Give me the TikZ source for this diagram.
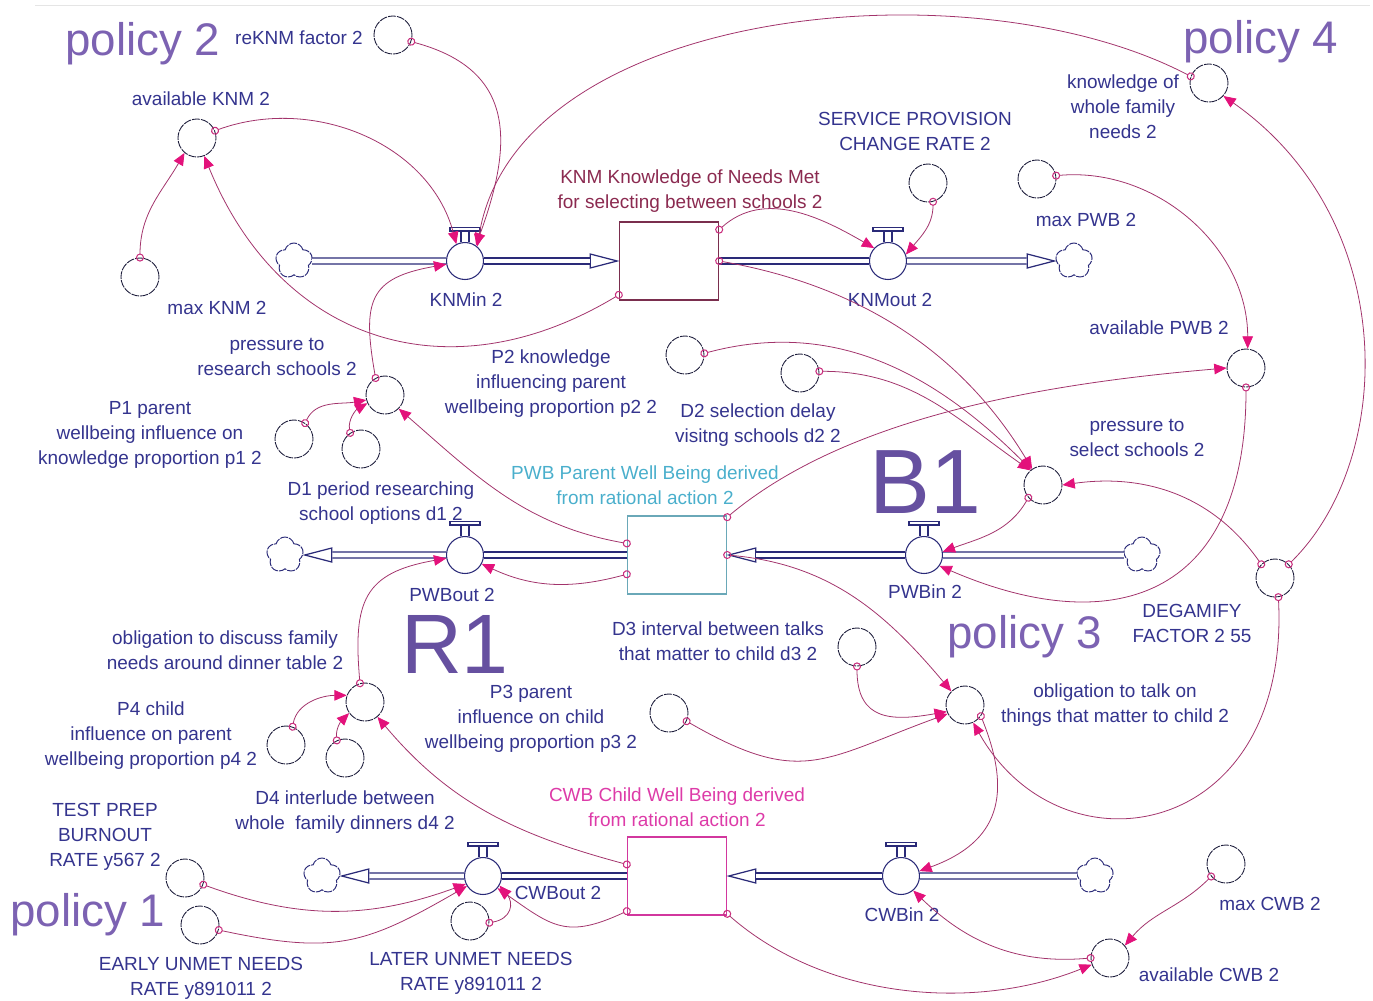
\documentclass[tikz,border=0pt]{standalone}
\usepackage{fontspec}
\setmainfont{Liberation Sans}
\usetikzlibrary{positioning,arrows.meta,calc,shapes.geometric,shapes.symbols}
\definecolor{flowInk}{HTML}{2A2A78}
\definecolor{txtInk}{HTML}{34348E}
\definecolor{auxInk}{HTML}{1E1E3C}
\definecolor{linkInk}{HTML}{A2336B}
\definecolor{headPk}{HTML}{E3127B}
\definecolor{tailPk}{HTML}{C92F7E}
\definecolor{knmInk}{HTML}{8B2A50}
\definecolor{knmEdge}{HTML}{7A2E4E}
\definecolor{pwbInk}{HTML}{4AAFCC}
\definecolor{pwbEdge}{HTML}{6AA8B8}
\definecolor{cwbInk}{HTML}{DD3BA8}
\definecolor{cwbEdge}{HTML}{D2379E}
\definecolor{polInk}{HTML}{7C62B2}
\definecolor{loopInk}{HTML}{6650A0}

\begin{document}
\begin{tikzpicture}[
  x=0.02cm, y=0.02cm,
  font=\fontsize{10.8}{14.2}\selectfont,
  aux/.style={circle, draw=auxInk, line width=0.5pt, dash pattern=on 4.5pt off 0.6pt, fill=white, minimum size=0.76cm, inner sep=0pt},
  valve/.style={circle, draw=flowInk, line width=0.6pt, fill=white, minimum size=0.74cm, inner sep=0pt},
  stock/.style={rectangle, line width=0.8pt, fill=white, minimum width=1.98cm, minimum height=1.56cm, inner sep=0pt},
  cloudy/.style={cloud, cloud puffs=5, aspect=1, draw=flowInk, line width=0.55pt, dash pattern=on 4.5pt off 0.6pt, fill=white, minimum width=0.74cm, minimum height=0.72cm, inner sep=0pt},
  pipe/.style={draw=flowInk, line width=0.7pt, double=white, double distance=2.6pt},
  pipeHd/.style={isosceles triangle, isosceles triangle stretches, draw=flowInk, line width=0.7pt, fill=white, minimum width=0.28cm, minimum height=0.54cm, inner sep=0pt},
  lbl/.style={text=txtInk, align=center, inner sep=1pt},
  link/.style={draw=linkInk, line width=0.45pt, shorten <=-2.3pt,
    arrows={Circle[open,length=4.6pt,width=4.6pt,line width=0.6pt,color=tailPk]-Triangle[length=7pt,width=6pt,color=headPk]}},
  pol/.style={font=\fontsize{26}{30}\selectfont, text=polInk, inner sep=0pt},
  loopmk/.style={font=\fontsize{52}{56}\selectfont, text=loopInk, inner sep=0pt},
]
\useasboundingbox (0,0) rectangle (1373,-1001);
\draw[black!10] (35,-5) -- (1370,-5);

% =========================== STOCKS ===========================
\node[stock, draw=knmEdge] (knm) at (669,-261) {};
\node[stock, draw=pwbEdge] (pwb) at (677,-555) {};
\node[stock, draw=cwbEdge] (cwb) at (677,-876) {};

\node[lbl, text=knmInk] (knmT) at (690,-191) {KNM Knowledge of Needs Met\\for selecting between schools 2};
\node[lbl, text=pwbInk] (pwbT) at (645,-485) {PWB Parent Well Being derived\\from rational action 2};
\node[lbl, text=cwbInk] (cwbT) at (677,-807) {CWB Child Well Being derived\\from rational action 2};

% =========================== FLOWS ===========================
\node[valve] (knmIn)  at (465,-261) {};
\node[valve] (knmOut) at (888,-261) {};
\node[valve] (pwbOut) at (465,-555) {};
\node[valve] (pwbIn)  at (924,-555) {};
\node[valve] (cwbOut) at (483,-876) {};
\node[valve] (cwbIn)  at (901,-876) {};
\foreach \v in {knmIn,knmOut,pwbOut,pwbIn,cwbOut,cwbIn}{
  \draw[flowInk, line width=0.6pt] ([xshift=-0.08cm]\v.north) -- ++(0,0.22cm) ([xshift=0.08cm]\v.north) -- ++(0,0.22cm);
  \draw[flowInk, line width=0.6pt, fill=white] ([shift={(-0.3cm,0.22cm)}]\v.north) rectangle ++(0.6cm,0.07cm);}

\node[cloudy] (knmSrc) at (294,-261) {};
\node[cloudy] (knmSnk) at (1074,-261) {};
\node[cloudy] (pwbSnk) at (285,-555) {};
\node[cloudy] (pwbSrc) at (1142,-555) {};
\node[cloudy] (cwbSnk) at (322,-876) {};
\node[cloudy] (cwbSrc) at (1095,-876) {};

\node[pipeHd, anchor=apex] (knmInHd) at (knm.west) {};
\node[pipeHd, anchor=apex] (knmOutHd) at (knmSnk.west) {};
\node[pipeHd, anchor=apex, shape border rotate=180] (pwbOutHd) at (pwbSnk.east) {};
\node[pipeHd, anchor=apex, shape border rotate=180] (pwbInHd) at (pwb.east) {};
\node[pipeHd, anchor=apex, shape border rotate=180] (cwbOutHd) at (cwbSnk.east) {};
\node[pipeHd, anchor=apex, shape border rotate=180] (cwbInHd) at (cwb.east) {};

\draw[pipe] (knmSrc) -- (knmIn);  \draw[pipe] (knmIn) -- (knmInHd);
\draw[pipe] (knm.east) -- (knmOut); \draw[pipe] (knmOut) -- (knmOutHd);
\draw[pipe] (pwb.west) -- (pwbOut); \draw[pipe] (pwbOut) -- (pwbOutHd);
\draw[pipe] (pwbSrc) -- (pwbIn);  \draw[pipe] (pwbIn) -- (pwbInHd);
\draw[pipe] (cwb.west) -- (cwbOut); \draw[pipe] (cwbOut) -- (cwbOutHd);
\draw[pipe] (cwbSrc) -- (cwbIn);  \draw[pipe] (cwbIn) -- (cwbInHd);

\node[lbl] (knmInT)  at (466,-300) {KNMin 2};
\node[lbl] (knmOutT) at (890,-300) {KNMout 2};
\node[lbl] (pwbOutT) at (452,-595) {PWBout 2};
\node[lbl] (pwbInT)  at (925,-592) {PWBin 2};
\node[lbl] (cwbOutT) at (558,-893) {CWBout 2};
\node[lbl] (cwbInT)  at (902,-915) {CWBin 2};

% =========================== AUXILIARIES ===========================
\foreach \nm/\cx/\cy in {reKNM/393/35, avKNM/197/138, maxKNM/140/277, svcRate/928/183,
    kwfn/1209/83, maxPWB/1037/179, avPWB/1246/368, prsRes/385/395, pOne/294/439,
    dOne/361/449, pTwo/685/355, dTwo/800/373, prsSel/1043/485, degam/1275/578,
    dThree/857/647, oblTalk/965/705, pThree/669/713, oblDin/365/702, pFour/286/745,
    dFour/345/758, tpb/185/878, eun/200/925, lun/470/921, maxCWB/1226/864, avCWB/1110/958}
  \node[aux] (\nm) at (\cx,-\cy) {};

\node[lbl] (reKNMt)   at (299,-38)   {reKNM factor 2};
\node[lbl] (avKNMt)   at (201,-99)   {available KNM 2};
\node[lbl] (maxKNMt)  at (217,-308)  {max KNM 2};
\node[lbl] (svcRateT) at (915,-131)  {SERVICE PROVISION\\CHANGE RATE 2};
\node[lbl] (kwfnT)    at (1123,-107) {knowledge of\\whole family\\needs 2};
\node[lbl] (maxPWBt)  at (1086,-220) {max PWB 2};
\node[lbl] (avPWBt)   at (1159,-328) {available PWB 2};
\node[lbl] (prsResT)  at (277,-357)  {pressure to\\research schools 2};
\node[lbl] (pOneT)    at (150,-435)  {P1 parent\\wellbeing influence on\\knowledge proportion p1 2};
\node[lbl] (dOneT)    at (381,-503)  {D1 period researching\\school options d1 2};
\node[lbl] (pTwoT)    at (551,-384)  {P2 knowledge\\influencing parent\\wellbeing proportion p2 2};
\node[lbl] (dTwoT)    at (758,-425)  {D2 selection delay\\visitng schools d2 2};
\node[lbl] (prsSelT)  at (1137,-438) {pressure to\\select schools 2};
\node[lbl] (degamT)   at (1192,-623) {DEGAMIFY\\FACTOR 2 55};
\node[lbl] (dThreeT)  at (718,-641)  {D3 interval between talks\\that matter to child d3 2};
\node[lbl] (oblTalkT) at (1115,-705) {obligation to talk on\\things that matter to child 2};
\node[lbl] (pThreeT)  at (531,-719)  {P3 parent\\influence on child\\wellbeing proportion p3 2};
\node[lbl] (oblDinT)  at (225,-650)  {obligation to discuss family\\needs around dinner table 2};
\node[lbl] (pFourT)   at (151,-736)  {P4 child\\influence on parent\\wellbeing proportion p4 2};
\node[lbl] (dFourT)   at (345,-812)  {D4 interlude between\\whole\ \ family dinners d4 2};
\node[lbl] (tpbT)     at (105,-837)  {TEST PREP\\BURNOUT\\RATE y567 2};
\node[lbl] (eunT)     at (201,-978)  {EARLY UNMET NEEDS\\RATE y891011 2};
\node[lbl] (lunT)     at (471,-973)  {LATER UNMET NEEDS\\RATE y891011 2};
\node[lbl] (maxCWBt)  at (1270,-904) {max CWB 2};
\node[lbl] (avCWBt)   at (1209,-975) {available CWB 2};

% =========================== POLICIES + LOOPS ===========================
\node[pol] (polTwo)   at (143,-44)  {policy 2};
\node[pol] (polFour)  at (1261,-42) {policy 4};
\node[pol] (polThree) at (1025,-637) {policy 3};
\node[pol] (polOne)   at (88,-915)  {policy 1};
\node[loopmk] (loopB) at (925,-482) {B1};
\node[loopmk, font=\fontsize{48}{52}\selectfont] (loopR) at (455,-644) {R1};

% =========================== LINKS ===========================
% knowledge side
\draw[link] (avKNM.22) to[out=20,in=105] (knmIn.117);
\draw[link] (reKNM.-20) to[out=-15,in=70,looseness=1.3] (knmIn.55);
\draw[link] (kwfn.160) .. controls +(-220,115) and +(40,240) .. (knmIn.50);
\draw[link] (maxKNM.90) to[out=90,in=-120] (avKNM.-130);
\draw[link] (knm.214) .. controls +(-171,-103) and +(75,-185) .. (avKNM.-68);
\draw[link] (prsRes.119) to[out=100,in=190,looseness=1.5] (knmIn.190);
\draw[link] (knm.32) to[out=42,in=150] (knmOut.137);
\draw[link] (svcRate.-75) to[out=-90,in=50] (knmOut.20);
\draw[link] (knm.east) .. controls +(148,-26) and +(-67,111) .. (prsSel.124);
\draw[link] (pTwo.5) to[out=15,in=135] (prsSel.128);
\draw[link] (dTwo.5) to[out=0,in=145] (prsSel.131);

% parent side
\draw[link] (pwb.37) .. controls +(115,96) and +(-200,-17) .. (avPWB.180);
\draw[link] (maxPWB.10) to[out=5,in=90] (avPWB.85);
\draw[link] (avPWB.-90) .. controls +(0,-213) and +(171,-74) .. (pwbIn.-35);
\draw[link] (prsSel.-139) to[out=-120,in=20] (pwbIn.10);
\draw[link] (degam.135) to[out=125,in=8] (prsSel.0);
\draw[link] (degam.45) .. controls +(107,105) and +(177,-124) .. (kwfn.-42);
\draw[link] (degam.-80) .. controls +(12,-243) and +(88,-157) .. (oblTalk.-65);
\draw[link] (pwb.east) to[out=-5,in=130] (oblTalk.135);
\draw[link] (dThree.-90) to[out=-90,in=190,looseness=1.4] (oblTalk.200);
\draw[link] (pThree.-25) to[out=-30,in=200,looseness=1.3] (oblTalk.207);
\draw[link] (pwb.167) to[out=170,in=-41] (prsRes.-45);
\draw[link] (pwb.201) to[out=195,in=-25] (pwbOut.-28);
\draw[link] (pOne.55) to[out=65,in=190] (prsRes.195);
\draw[link] (dOne.124) to[out=100,in=210] (prsRes.205);

% child side
\draw[link] (oblTalk.-35) to[out=-68,in=20,looseness=1.3] (cwbIn.15);
\draw[link] (avCWB.180) to[out=185,in=-44] (cwbIn.-50);
\draw[link] (cwb.323) .. controls +(98,-86) and +(-117,-47) .. (avCWB.200);
\draw[link] (maxCWB.-140) to[out=-135,in=50] (avCWB.40);
\draw[link] (oblDin.105) to[out=95,in=190,looseness=1.4] (pwbOut.190);
\draw[link] (pFour.70) to[out=80,in=180] (oblDin.160);
\draw[link] (dFour.115) to[out=95,in=225] (oblDin.215);
\draw[link] (cwb.167) to[out=165,in=-50] (oblDin.-50);
\draw[link] (cwb.215) to[out=205,in=-35,looseness=1.3] (cwbOut.-40);
\draw[link] (tpb.-20) to[out=-20,in=200] (cwbOut.205);
\draw[link] (eun.-15) to[out=-12,in=210,looseness=1.2] (cwbOut.212);
\draw[link] (lun.-5) to[out=10,in=-50,looseness=1.5] (cwbOut.-30);

\end{tikzpicture}
\end{document}
